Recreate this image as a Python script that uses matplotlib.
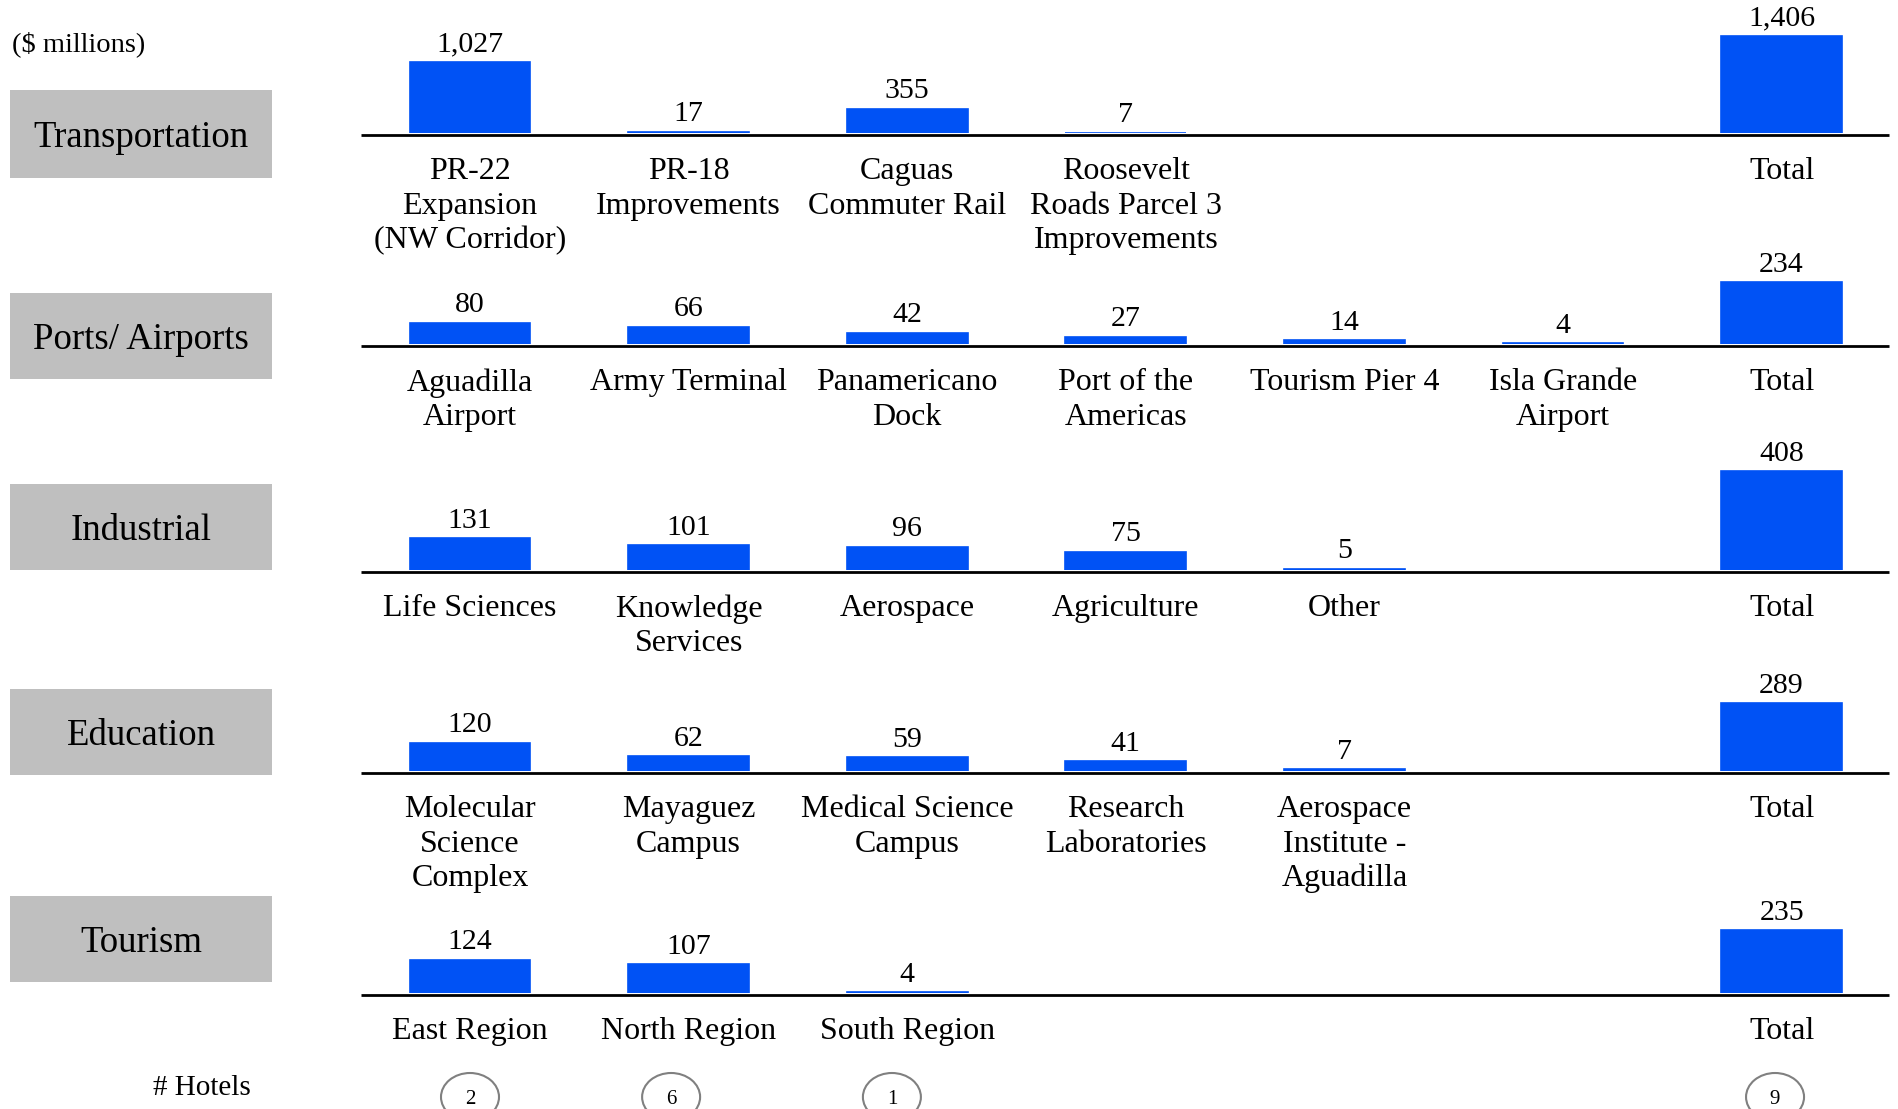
import matplotlib
matplotlib.use("Agg")
import matplotlib.pyplot as plt
from matplotlib.patches import Rectangle, Ellipse
import matplotlib.transforms as mtransforms

plt.rcParams["font.family"] = ["Liberation Serif", "DejaVu Serif"]

# ---------------- data ($ millions) ----------------
sectors = ["Transportation", "Ports/ Airports", "Industrial", "Education", "Tourism"]

transport_labels = ["PR-22\nExpansion\n(NW Corridor)", "PR-18\nImprovements",
                    "Caguas\nCommuter Rail", "Roosevelt\nRoads Parcel 3\nImprovements"]
transport_values = [1027, 17, 355, 7]
transport_total = 1406

ports_labels = ["Aguadilla\nAirport", "Army Terminal", "Panamericano\nDock",
                "Port of the\nAmericas", "Tourism Pier 4", "Isla Grande\nAirport"]
ports_values = [80, 66, 42, 27, 14, 4]
ports_total = 234

industrial_labels = ["Life Sciences", "Knowledge\nServices", "Aerospace",
                     "Agriculture", "Other"]
industrial_values = [131, 101, 96, 75, 5]
industrial_total = 408

education_labels = ["Molecular\nScience\nComplex", "Mayaguez\nCampus",
                    "Medical Science\nCampus", "Research\nLaboratories",
                    "Aerospace\nInstitute -\nAguadilla"]
education_values = [120, 62, 59, 41, 7]
education_total = 289

tourism_labels = ["East Region", "North Region", "South Region"]
tourism_values = [124, 107, 4]
tourism_total = 235

hotel_counts = [2, 6, 1]
hotel_total = 9

rows = [
    (transport_labels, transport_values, transport_total),
    (ports_labels, ports_values, ports_total),
    (industrial_labels, industrial_values, industrial_total),
    (education_labels, education_values, education_total),
    (tourism_labels, tourism_values, tourism_total),
]

# ---------------- layout (pixels) ----------------
W, H = 1898, 1109
BLUE = "#0052F5"
GREY = "#BFBFBF"
TOTAL_SLOT = 6
BASELINES = [133, 344, 570, 771, 993]
BOXES = [(90, 178), (293, 379), (484, 570), (689, 775), (896, 982)]
TOTAL_BAR_PX = [97, 62, 99, 68, 63]
AX_LEFT, AX_RIGHT = 361, 1889
COL0, COL_STEP = 470, 218.6
AX_H = 130
BAR_W = 0.553
HOTEL_DX = [0.0, -0.08, -0.07, -0.03]

fig = plt.figure(figsize=(W / 100, H / 100), dpi=100)

fig.text(12 / W, 1 - 44 / H, "($ millions)", fontsize=20.5, ha="left", va="center")

for r, (labels, values, total) in enumerate(rows):
    base = BASELINES[r]
    ax = fig.add_axes([AX_LEFT / W, 1 - base / H, (AX_RIGHT - AX_LEFT) / W, AX_H / H])
    ax.set_xlim((AX_LEFT - COL0) / COL_STEP, (AX_RIGHT - COL0) / COL_STEP)
    ax.set_ylim(0, total * AX_H / TOTAL_BAR_PX[r])
    ax.axis("off")

    xs = list(range(len(values))) + [TOTAL_SLOT]
    ys = list(values) + [total]
    names = list(labels) + ["Total"]
    ax.bar(xs, ys, width=BAR_W, color=BLUE, edgecolor=BLUE, lw=1.2, zorder=3)

    # baseline rule sits just under the bars
    rule_tr = mtransforms.offset_copy(ax.get_yaxis_transform(), fig=fig,
                                      y=-1.1, units="points")
    ax.plot([0, 1], [0, 0], color="black", lw=2, transform=rule_tr,
            zorder=2, clip_on=False, solid_capstyle="butt")

    for x, y, name in zip(xs, ys, names):
        ax.annotate(f"{y:,}", xy=(x, y), xytext=(0, 7.5), textcoords="offset points",
                    ha="center", va="baseline", fontsize=21.5, annotation_clip=False)
        ax.annotate(name, xy=(x, 0), xytext=(0, -17.5), textcoords="offset points",
                    ha="center", va="top", fontsize=23, linespacing=1.24,
                    multialignment="center", annotation_clip=False)

    # sector box on the left
    y0, y1 = BOXES[r]
    fig.patches.append(Rectangle((10 / W, 1 - y1 / H), (272 - 10) / W, (y1 - y0) / H,
                                 transform=fig.transFigure, facecolor=GREY,
                                 edgecolor="none"))
    fig.text(141 / W, 1 - ((y0 + y1) / 2 + 4) / H, sectors[r], fontsize=26.5,
             ha="center", va="center")

    if r == len(rows) - 1:
        trans = mtransforms.blended_transform_factory(ax.transData, fig.transFigure)
        hx = list(range(len(hotel_counts))) + [TOTAL_SLOT]
        hv = list(hotel_counts) + [hotel_total]
        for x, dx, n in zip(hx, HOTEL_DX, hv):
            e = Ellipse((x + dx, 1 - 1097 / H), width=58 / COL_STEP, height=48 / H,
                        transform=trans, facecolor="none", edgecolor="#808080",
                        lw=1.5, clip_on=False)
            fig.patches.append(e)
            fig.text(x + dx, 1 - 1100 / H, str(n), transform=trans, fontsize=15,
                     ha="center", va="center")

fig.text(251 / W, 1 - 1088 / H, "# Hotels", fontsize=21, ha="right", va="center")

fig.savefig("out.png", dpi=100, facecolor="white")
